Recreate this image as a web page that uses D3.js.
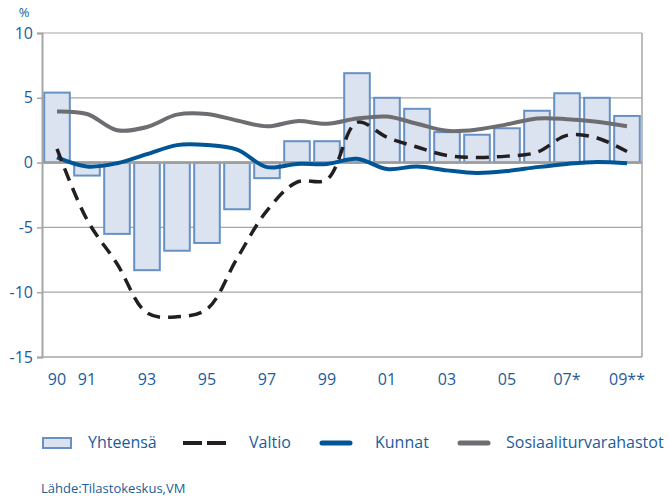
<!DOCTYPE html>
<html>
<head>
<meta charset="utf-8">
<script src="https://cdn.jsdelivr.net/npm/d3@7"></script>
<style>
  html, body { margin: 0; padding: 0; background: #fff; }
  svg { display: block; font-family: "Open Sans", "Noto Sans", sans-serif; }
</style>
</head>
<body>
<svg id="chart" width="669" height="496"></svg>
<script>
const years = ["1990","1991","1992","1993","1994","1995","1996","1997","1998","1999",
               "2000","2001","2002","2003","2004","2005","2006","2007","2008","2009"];
const tickLabels = {"1990":"90","1991":"91","1993":"93","1995":"95","1997":"97","1999":"99",
                    "2001":"01","2003":"03","2005":"05","2007":"07*","2009":"09**"};
const yhteensa = [5.4,-1.0,-5.5,-8.3,-6.8,-6.2,-3.6,-1.2,1.65,1.65,6.9,5.0,4.15,2.35,2.15,2.65,4.0,5.35,5.0,3.6];
const valtio   = [1.05,-4.4,-7.8,-11.6,-11.9,-11.3,-7.4,-3.7,-1.5,-1.3,3.1,1.95,1.2,0.55,0.4,0.5,0.8,2.1,1.9,0.85];
const kunnat   = [0.4,-0.3,-0.05,0.65,1.35,1.35,1.0,-0.35,-0.1,-0.1,0.3,-0.5,-0.3,-0.6,-0.8,-0.65,-0.35,-0.1,0.05,-0.05];
const sosiaali = [3.95,3.75,2.5,2.75,3.7,3.75,3.25,2.8,3.2,3.0,3.4,3.55,3.0,2.45,2.55,2.95,3.4,3.35,3.15,2.8];
const yTicks = [10,5,0,-5,-10,-15];

const textBlue = "#1b5c9b";
const gridGray = "#a6a6a6";

const svg = d3.select("#chart");
const mLeft = 42, mRight = 642, mTop = 33, mBottom = 357;

const x = d3.scaleBand().domain(years).range([mLeft, mRight]).paddingInner(0.08).paddingOuter(0.04);
const y = d3.scaleLinear().domain([-15, 10]).range([mBottom, mTop]);

// gridlines
svg.append("g").selectAll("line").data(yTicks.filter(d => d !== 0 && d !== -15)).join("line")
  .attr("x1", mLeft).attr("x2", mRight)
  .attr("y1", d => y(d)).attr("y2", d => y(d))
  .attr("stroke", gridGray).attr("stroke-width", 1.2);

// right border & bottom
svg.append("line").attr("x1", mRight).attr("x2", mRight).attr("y1", y(10)).attr("y2", y(-15))
  .attr("stroke", gridGray).attr("stroke-width", 1.5);
svg.append("line").attr("x1", mLeft).attr("x2", mRight).attr("y1", y(-15)).attr("y2", y(-15))
  .attr("stroke", gridGray).attr("stroke-width", 1.5);

// bars
svg.append("g").selectAll("rect").data(years).join("rect")
  .attr("x", d => x(d) + 1)
  .attr("width", x.bandwidth() - 2)
  .attr("y", (d, i) => y(Math.max(0, yhteensa[i])))
  .attr("height", (d, i) => Math.abs(y(yhteensa[i]) - y(0)))
  .attr("fill", "#dbe3f0")
  .attr("stroke", "#6790c3")
  .attr("stroke-width", 2);

// zero line
svg.append("line").attr("x1", mLeft).attr("x2", mRight).attr("y1", y(0)).attr("y2", y(0))
  .attr("stroke", "#9d9d9d").attr("stroke-width", 2.5);

// y axis
const yAxis = d3.axisLeft(y).tickValues(yTicks).tickSize(5).tickPadding(4).tickFormat(d => d);
const ya = svg.append("g").attr("transform", `translate(${mLeft},0)`).call(yAxis);
ya.select(".domain").attr("stroke", gridGray).attr("stroke-width", 2);
ya.selectAll(".tick line").attr("stroke", gridGray).attr("stroke-width", 1.5);
ya.selectAll(".tick text").attr("fill", textBlue).attr("font-size", 16)
  .attr("font-family", "'Open Sans', sans-serif");

// x axis labels
const xAxis = d3.axisBottom(x).tickValues(Object.keys(tickLabels)).tickSize(0).tickPadding(0)
  .tickFormat(d => tickLabels[d]);
const xa = svg.append("g").attr("transform", `translate(0,${mBottom + 17})`).call(xAxis);
xa.select(".domain").remove();
xa.selectAll(".tick text").attr("fill", textBlue).attr("font-size", 16)
  .attr("font-family", "'Open Sans', sans-serif").attr("dy", "0.71em");

// % label
svg.append("text").attr("x", 24).attr("y", 17).attr("text-anchor", "middle")
  .attr("fill", textBlue).attr("font-size", 13).text("%");

// lines
const cx = d => x(d) + x.bandwidth() / 2;
const line = d3.line().x((d, i) => cx(years[i])).y(d => y(d)).curve(d3.curveCatmullRom.alpha(0.5));

svg.append("path").datum(sosiaali).attr("d", line)
  .attr("fill", "none").attr("stroke", "#6d6e71").attr("stroke-width", 4).attr("stroke-linejoin", "round");
svg.append("path").datum(kunnat).attr("d", line)
  .attr("fill", "none").attr("stroke", "#005596").attr("stroke-width", 4).attr("stroke-linejoin", "round");
svg.append("path").datum(valtio).attr("d", line)
  .attr("fill", "none").attr("stroke", "#231f20").attr("stroke-width", 3.5)
  .attr("stroke-dasharray", "13,8");

// legend
const lg = svg.append("g");
const ly = 443;
lg.append("rect").attr("x", 43).attr("y", 438).attr("width", 28).attr("height", 10)
  .attr("fill", "#dbe3f0").attr("stroke", "#6790c3").attr("stroke-width", 2);
lg.append("line").attr("x1", 183).attr("x2", 228).attr("y1", ly).attr("y2", ly)
  .attr("stroke", "#231f20").attr("stroke-width", 4).attr("stroke-dasharray", "19,5");
lg.append("line").attr("x1", 322).attr("x2", 350).attr("y1", ly).attr("y2", ly)
  .attr("stroke", "#005596").attr("stroke-width", 5).attr("stroke-linecap", "round");
lg.append("line").attr("x1", 460).attr("x2", 488).attr("y1", ly).attr("y2", ly)
  .attr("stroke", "#6d6e71").attr("stroke-width", 5).attr("stroke-linecap", "round");
const legendTexts = [["Yhteensä", 88], ["Valtio", 249], ["Kunnat", 375], ["Sosiaaliturvarahastot", 506]];
lg.selectAll("text").data(legendTexts).join("text")
  .attr("x", d => d[1]).attr("y", 448)
  .attr("fill", textBlue).attr("font-size", 16).text(d => d[0]);

// source
svg.append("text").attr("x", 41).attr("y", 493).attr("fill", textBlue).attr("font-size", 13)
  .text("Lähde:Tilastokeskus,VM");
</script>
</body>
</html>
